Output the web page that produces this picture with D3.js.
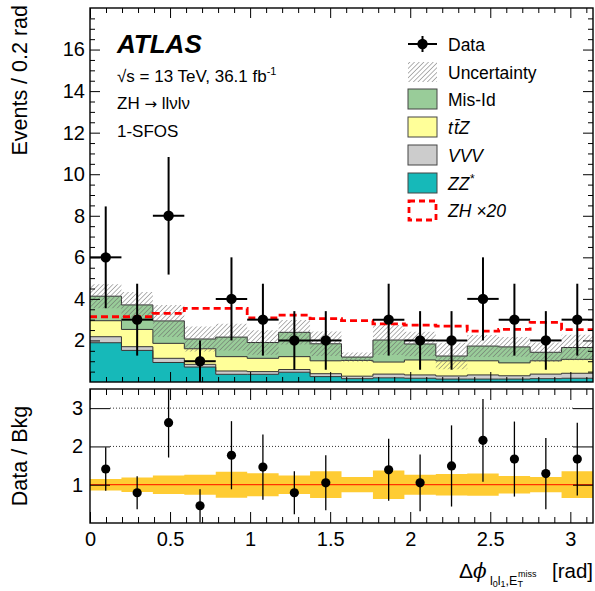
<!DOCTYPE html>
<html>
<head>
<meta charset="utf-8">
<script src="https://cdn.jsdelivr.net/npm/d3@7"></script>
<style>
  body { margin: 0; background: #fff; }
  text { font-family: "Liberation Sans", Arial, Helvetica, sans-serif; fill: #000; }
</style>
</head>
<body>
<svg id="chart" width="595" height="591"></svg>
<script>
// binning: 16 bins over [0, pi]
const nBins = 16;
const xMax = Math.PI;

// observed events and their errors
const dataCounts = [6, 3, 8, 1, 4, 3, 2, 2, 0, 3, 2, 2, 4, 3, 2, 3];
const dataErr = [2.45, 1.73, 2.83, 1.0, 2.0, 1.73, 1.41, 1.41, 0, 1.73, 1.41, 1.41, 2.0, 1.73, 1.41, 1.73];

// background components (stacked bottom -> top)
const zzStar = [1.89, 1.52, 0.94, 0.72, 0.37, 0.37, 0.47, 0.26, 0.16, 0.20, 0.18, 0.14, 0.14, 0.14, 0.16, 0.18];
const vvv    = [0.29, 0.18, 0.20, 0.13, 0.16, 0.13, 0.13, 0.14, 0.12, 0.18, 0.16, 0.15, 0.20, 0.16, 0.22, 0.24];
const ttz    = [0.77, 0.83, 0.72, 0.75, 0.69, 0.64, 0.62, 0.62, 0.76, 0.58, 0.72, 0.73, 0.68, 0.62, 0.64, 0.67];
const misId  = [1.18, 1.18, 1.08, 0.47, 0.94, 0.76, 1.17, 0.82, 0.16, 1.06, 0.77, 0.23, 0.71, 0.77, 0.41, 0.57];
const bkgUnc = [0.58, 0.62, 0.77, 0.60, 0.64, 0.59, 0.59, 0.59, 0.22, 0.72, 0.59, 0.64, 0.53, 0.48, 0.47, 0.61];

// signal ZH scaled x20
const zhX20 = [3.14, 3.14, 3.30, 3.54, 3.54, 3.09, 3.22, 3.05, 2.95, 2.80, 2.74, 2.69, 2.45, 2.53, 2.87, 2.52];

// ratio panel
const ratio    = [1.41, 0.79, 2.62, 0.45, 1.77, 1.46, 0.79, 1.05, null, 1.39, 1.05, 1.49, 2.16, 1.67, 1.29, 1.67];
const ratioErr = [0.57, 0.43, 0.91, 0.43, 0.89, 0.85, 0.56, 0.72, null, 0.81, 0.74, 1.06, 1.08, 0.98, 0.93, 0.95];
const ratioBand = [0.15, 0.19, 0.24, 0.26, 0.34, 0.30, 0.24, 0.35, 0.20, 0.37, 0.26, 0.28, 0.29, 0.23, 0.20, 0.35];

const xTicks = [0, 0.5, 1, 1.5, 2, 2.5, 3];
const yTopTicks = [2, 4, 6, 8, 10, 12, 14, 16];
const yBotTicks = [1, 2, 3];

const legendItems = [
  {key: 'data', label: 'Data'},
  {key: 'unc', label: 'Uncertainty'},
  {key: 'misId', label: 'Mis-Id', color: '#99cc99'},
  {key: 'ttz', label: 'ttZ', color: '#ffff99'},
  {key: 'vvv', label: 'VVV', color: '#cccccc'},
  {key: 'zz', label: 'ZZ*', color: '#16b9b9'},
  {key: 'zh', label: 'ZH ×20'}
];
const colors = {zz: '#16b9b9', vvv: '#cccccc', ttz: '#ffff99', misId: '#99cc99'};

const L = 90, R = 593, topT = 8, topB = 382, botT = 389, botB = 523;

const svg = d3.select('#chart');
const defs = svg.append('defs');

const pat = defs.append('pattern')
    .attr('id', 'hatch')
    .attr('patternUnits', 'userSpaceOnUse')
    .attr('width', 3.3).attr('height', 3.3)
    .attr('patternTransform', 'rotate(45)');
pat.append('line')
    .attr('x1', 0).attr('y1', 0).attr('x2', 0).attr('y2', 3.3)
    .attr('stroke', '#666').attr('stroke-width', 1);

defs.append('clipPath').attr('id', 'clipTop')
  .append('rect').attr('x', L).attr('y', topT).attr('width', R - L).attr('height', topB - topT);
defs.append('clipPath').attr('id', 'clipBot')
  .append('rect').attr('x', L).attr('y', botT).attr('width', R - L).attr('height', botB - botT);

const x = d3.scaleLinear().domain([0, xMax]).range([L, R]);
const yTop = d3.scaleLinear().domain([0, 18]).range([topB, topT]);
const yBot = d3.scaleLinear().domain([0, 3.5]).range([botB, botT]);

const edges = d3.range(nBins + 1).map(i => i * xMax / nBins);
const centers = d3.range(nBins).map(i => (edges[i] + edges[i + 1]) / 2);

const rows = d3.range(nBins).map(i => ({
  i: i, zz: zzStar[i], vvv: vvv[i], ttz: ttz[i], misId: misId[i]
}));
const series = d3.stack().keys(['zz', 'vvv', 'ttz', 'misId'])(rows);

// step helpers: repeat last bin at last edge
function stepPts(vals) {
  const pts = vals.map((v, i) => [edges[i], v]);
  pts.push([edges[nBins], vals[nBins - 1]]);
  return pts;
}

// ---------- upper panel ----------
const gTop = svg.append('g').attr('clip-path', 'url(#clipTop)');

const areaTop = d3.area()
    .x(d => x(d[0])).y0(d => yTop(d[1])).y1(d => yTop(d[2]))
    .curve(d3.curveStepAfter);
const lineTop = d3.line()
    .x(d => x(d[0])).y(d => yTop(d[1]))
    .curve(d3.curveStepAfter);

series.forEach(s => {
  const pts = s.map((d, i) => [edges[i], d[0], d[1]]);
  pts.push([edges[nBins], s[nBins - 1][0], s[nBins - 1][1]]);
  gTop.append('path')
      .attr('d', areaTop(pts))
      .attr('fill', colors[s.key]);
});
series.forEach(s => {
  gTop.append('path')
      .attr('d', lineTop(stepPts(s.map(d => d[1]))))
      .attr('fill', 'none')
      .attr('stroke', '#333')
      .attr('stroke-width', 1);
});

// uncertainty hatch
const total = series[series.length - 1].map(d => d[1]);
const uncPts = total.map((t, i) => [edges[i], t - bkgUnc[i], t + bkgUnc[i]]);
uncPts.push([edges[nBins], total[nBins - 1] - bkgUnc[nBins - 1], total[nBins - 1] + bkgUnc[nBins - 1]]);
gTop.append('path')
    .attr('d', areaTop(uncPts))
    .attr('fill', 'url(#hatch)');

// ZH x20 dashed
gTop.append('path')
    .attr('d', lineTop(stepPts(zhX20)))
    .attr('fill', 'none')
    .attr('stroke', '#ff0000')
    .attr('stroke-width', 2.8)
    .attr('stroke-dasharray', '7,4');

// data points
const dataG = gTop.append('g');
dataCounts.forEach((n, i) => {
  if (n <= 0) return;
  dataG.append('line')
      .attr('x1', x(edges[i])).attr('x2', x(edges[i + 1]))
      .attr('y1', yTop(n)).attr('y2', yTop(n))
      .attr('stroke', '#000').attr('stroke-width', 2);
  dataG.append('line')
      .attr('x1', x(centers[i])).attr('x2', x(centers[i]))
      .attr('y1', yTop(n - dataErr[i])).attr('y2', yTop(n + dataErr[i]))
      .attr('stroke', '#000').attr('stroke-width', 2);
  dataG.append('circle')
      .attr('cx', x(centers[i])).attr('cy', yTop(n)).attr('r', 5.2)
      .attr('fill', '#000');
});

// ---------- lower panel ----------
const gBot = svg.append('g').attr('clip-path', 'url(#clipBot)');

const areaBot = d3.area()
    .x(d => x(d[0])).y0(d => yBot(d[1])).y1(d => yBot(d[2]))
    .curve(d3.curveStepAfter);
const bandPts = ratioBand.map((b, i) => [edges[i], 1 - b, 1 + b]);
bandPts.push([edges[nBins], 1 - ratioBand[nBins - 1], 1 + ratioBand[nBins - 1]]);
gBot.append('path')
    .attr('d', areaBot(bandPts))
    .attr('fill', '#ffcc33');

gBot.append('line')
    .attr('x1', L).attr('x2', R)
    .attr('y1', yBot(1)).attr('y2', yBot(1))
    .attr('stroke', '#ff3300').attr('stroke-width', 1.2);

[2, 3].forEach(v => {
  gBot.append('line')
      .attr('x1', L + 20).attr('x2', R - 20)
      .attr('y1', yBot(v)).attr('y2', yBot(v))
      .attr('stroke', '#333').attr('stroke-width', 1)
      .attr('stroke-dasharray', '1,2');
});

ratio.forEach((r, i) => {
  if (r === null) return;
  gBot.append('line')
      .attr('x1', x(centers[i])).attr('x2', x(centers[i]))
      .attr('y1', yBot(r - ratioErr[i])).attr('y2', yBot(r + ratioErr[i]))
      .attr('stroke', '#000').attr('stroke-width', 1.3);
  gBot.append('circle')
      .attr('cx', x(centers[i])).attr('cy', yBot(r)).attr('r', 4.6)
      .attr('fill', '#000');
});

// ---------- axes ----------
const minorX = d3.range(0, 3.15, 0.1).filter(v => Math.abs(v * 2 - Math.round(v * 2)) > 1e-6);
const minorYTop = d3.range(0.5, 18, 0.5).filter(v => Math.abs(v % 2) > 1e-6);

function addAxis(axis, tx, ty, labels) {
  const g = svg.append('g')
      .attr('transform', `translate(${tx},${ty})`)
      .call(axis);
  g.select('.domain').remove();
  g.selectAll('line').attr('stroke', '#000').attr('stroke-width', 1);
  if (!labels) g.selectAll('text').remove();
  else g.selectAll('text').style('font-size', '20px').attr('fill', '#000');
  return g;
}

// upper x (bottom and top)
addAxis(d3.axisBottom(x).tickValues(xTicks).tickSize(-10).tickFormat(''), 0, topB, false);
addAxis(d3.axisBottom(x).tickValues(minorX).tickSize(-5).tickFormat(''), 0, topB, false);
addAxis(d3.axisTop(x).tickValues(xTicks).tickSize(-10).tickFormat(''), 0, topT, false);
addAxis(d3.axisTop(x).tickValues(minorX).tickSize(-5).tickFormat(''), 0, topT, false);
// upper y
addAxis(d3.axisLeft(yTop).tickValues(yTopTicks).tickSize(-10).tickPadding(5).tickFormat(d3.format('d')), L, 0, true);
addAxis(d3.axisLeft(yTop).tickValues(minorYTop).tickSize(-5).tickFormat(''), L, 0, false);
addAxis(d3.axisRight(yTop).tickValues(yTopTicks).tickSize(-10).tickFormat(''), R, 0, false);
addAxis(d3.axisRight(yTop).tickValues(minorYTop).tickSize(-5).tickFormat(''), R, 0, false);

// lower x
addAxis(d3.axisBottom(x).tickValues(xTicks).tickSize(-11).tickPadding(9).tickFormat(d3.format('')), 0, botB, true);
addAxis(d3.axisBottom(x).tickValues(minorX).tickSize(-6).tickFormat(''), 0, botB, false);
addAxis(d3.axisTop(x).tickValues(xTicks).tickSize(-11).tickFormat(''), 0, botT, false);
addAxis(d3.axisTop(x).tickValues(minorX).tickSize(-6).tickFormat(''), 0, botT, false);
// lower y
addAxis(d3.axisLeft(yBot).tickValues(yBotTicks).tickSize(-20).tickPadding(7).tickFormat(d3.format('d')), L, 0, true);
addAxis(d3.axisRight(yBot).tickValues(yBotTicks).tickSize(-20).tickFormat(''), R, 0, false);

// frames
[[topT, topB], [botT, botB]].forEach(([t, b]) => {
  svg.append('rect')
      .attr('x', L).attr('y', t).attr('width', R - L).attr('height', b - t)
      .attr('fill', 'none').attr('stroke', '#000').attr('stroke-width', 1.4);
});

// ---------- titles ----------
svg.append('text')
    .attr('transform', 'translate(27,5) rotate(-90)')
    .attr('text-anchor', 'end')
    .style('font-size', '21.5px')
    .text('Events / 0.2 rad');

svg.append('text')
    .attr('transform', `translate(27,${(botT + botB) / 2}) rotate(-90)`)
    .attr('text-anchor', 'middle')
    .style('font-size', '21.5px')
    .text('Data / Bkg');

svg.append('text')
    .attr('x', R).attr('y', 578)
    .attr('text-anchor', 'end')
    .style('font-size', '20.5px')
    .text('[rad]');
const xt = svg.append('text').attr('x', 459).attr('y', 578).style('font-size', '21px');
xt.append('tspan').text('Δ');
xt.append('tspan').style('font-family', '"DejaVu Serif", serif').style('font-style', 'italic')
    .style('font-size', '20px').text('ϕ');
const xs = svg.append('text').attr('x', 490).attr('y', 585).style('font-size', '12.5px');
xs.append('tspan').text('l');
xs.append('tspan').attr('dy', 2).style('font-size', '9px').text('0');
xs.append('tspan').attr('dy', -2).text('l');
xs.append('tspan').attr('dy', 2).style('font-size', '9px').text('1');
xs.append('tspan').attr('dy', -2).text(',E');
xs.append('tspan').attr('dy', 2).style('font-size', '9px').text('T');
xs.append('tspan').attr('dx', -5).attr('dy', -10).style('font-size', '9px').text('miss');

// ---------- labels ----------
svg.append('text')
    .attr('x', 117).attr('y', 53)
    .style('font-size', '26px').style('font-weight', 'bold').style('font-style', 'italic')
    .text('ATLAS');

const t1 = svg.append('text').attr('x', 117).attr('y', 82).style('font-size', '17px');
t1.append('tspan').text('√s = 13 TeV, 36.1 fb');
t1.append('tspan').attr('dy', -7).style('font-size', '11px').text('-1');

const t2 = svg.append('text').attr('x', 117).attr('y', 109).style('font-size', '17px');
t2.append('tspan').text('ZH ');
t2.append('tspan').style('font-family', '"DejaVu Sans", sans-serif').style('font-size', '15px').text('→');
t2.append('tspan').text(' llνlν');
svg.append('text').attr('x', 117).attr('y', 137).style('font-size', '17px').text('1-SFOS');

// ---------- legend ----------
const legY = [44, 72, 99, 127, 155, 183, 210];
const lg = svg.append('g');
legendItems.forEach((it, k) => {
  const cy = legY[k];
  if (it.key === 'data') {
    lg.append('line').attr('x1', 408).attr('x2', 437).attr('y1', cy).attr('y2', cy)
        .attr('stroke', '#000').attr('stroke-width', 2);
    lg.append('line').attr('x1', 422.5).attr('x2', 422.5).attr('y1', cy - 8).attr('y2', cy + 8)
        .attr('stroke', '#000').attr('stroke-width', 2);
    lg.append('circle').attr('cx', 422.5).attr('cy', cy).attr('r', 5.2).attr('fill', '#000');
  } else if (it.key === 'unc') {
    lg.append('rect').attr('x', 408).attr('y', cy - 10).attr('width', 29).attr('height', 20)
        .attr('fill', 'url(#hatch)');
  } else if (it.key === 'zh') {
    lg.append('rect').attr('x', 409).attr('y', cy - 9).attr('width', 27).attr('height', 19)
        .attr('fill', 'none').attr('stroke', '#ff0000').attr('stroke-width', 2.8)
        .attr('stroke-dasharray', '6,4');
  } else {
    lg.append('rect').attr('x', 408).attr('y', cy - 10).attr('width', 29).attr('height', 20)
        .attr('fill', it.color).attr('stroke', '#444').attr('stroke-width', 1);
  }
  const tx = lg.append('text').attr('x', 448).attr('y', cy + 6.5).style('font-size', '17.5px');
  if (it.key === 'ttz') {
    tx.style('font-style', 'italic');
    tx.append('tspan').text('t');
    tx.append('tspan').attr('dx', 1).text('t\u0304');
    tx.append('tspan').text('Z');
  } else if (it.key === 'vvv') {
    tx.style('font-style', 'italic').text('VVV');
  } else if (it.key === 'zz') {
    tx.style('font-style', 'italic');
    tx.append('tspan').text('ZZ');
    tx.append('tspan').attr('dy', -7).style('font-size', '12px').text('*');
  } else if (it.key === 'zh') {
    tx.append('tspan').style('font-style', 'italic').text('ZH');
    tx.append('tspan').attr('dx', 5).style('font-style', 'italic').text('×20');
  } else {
    tx.text(it.label);
  }
});
</script>
</body>
</html>
